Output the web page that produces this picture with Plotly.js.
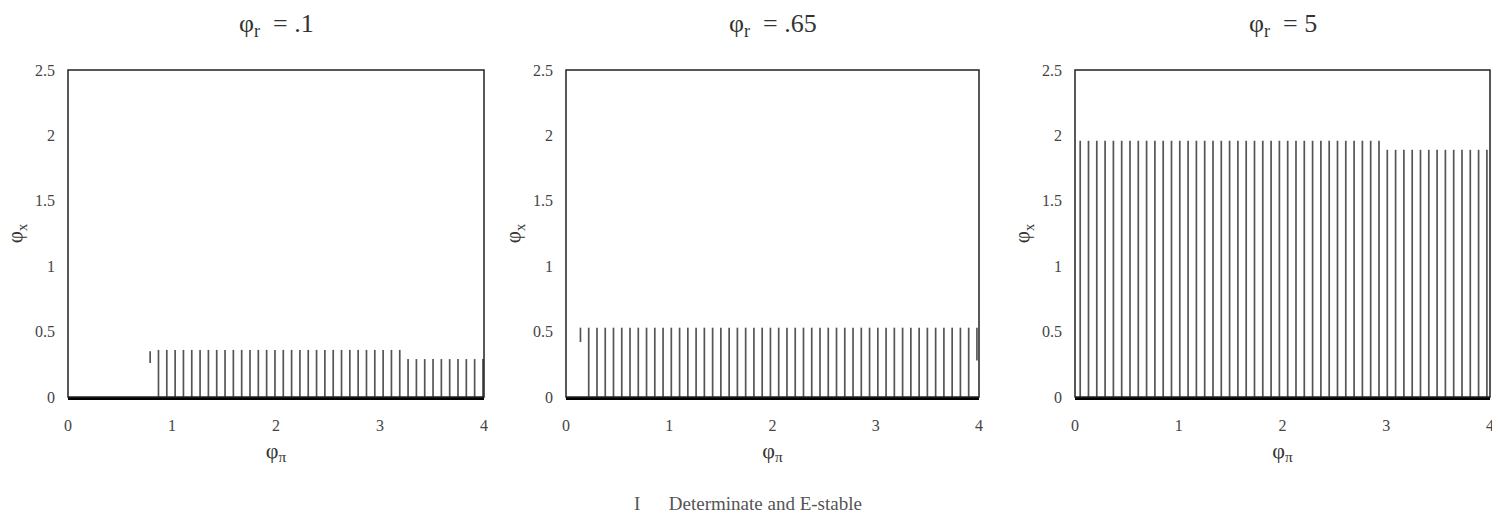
<!DOCTYPE html>
<html><head><meta charset="utf-8">
<script src="https://cdn.plot.ly/plotly-3.0.1.min.js"></script>
<style>html,body{margin:0;padding:0;background:#fff}#chart{width:1492px;height:517px}</style>
</head><body><div id="chart"></div>
<script>
// ---- data ----
const panelTitles = ['φ<sub>r</sub>  = .1', 'φ<sub>r</sub>  = .65', 'φ<sub>r</sub>  = 5'];
const xTickVals = [0, 1, 2, 3, 4];
const xTickText = ['0', '1', '2', '3', '4'];
const yTickVals = [0, 0.5, 1, 1.5, 2, 2.5];
const yTickText = ['0', '0.5', '1', '1.5', '2', '2.5'];
const legendLabel = 'Determinate and E-stable';

// panel 1 (phi_r = .1): phi_pi positions, upper and lower ends of the stable region
const p1X = [0.79, 0.87,0.95,1.03,1.11,1.19,1.27,1.35,1.43,1.51,1.59,1.67,1.75,1.83,1.91,1.99,2.07,2.15,2.23,2.31,2.39,2.47,2.55,2.63,2.71,2.79,2.87,2.95,3.03,3.11,3.19, 3.27,3.35,3.43,3.51,3.59,3.67,3.75,3.83,3.91,3.99];
const p1Top = [0.35, 0.36,0.36,0.36,0.36,0.36,0.36,0.36,0.36,0.36,0.36,0.36,0.36,0.36,0.36,0.36,0.36,0.36,0.36,0.36,0.36,0.36,0.36,0.36,0.36,0.36,0.36,0.36,0.36,0.36,0.36, 0.29,0.29,0.29,0.29,0.29,0.29,0.29,0.29,0.29,0.29];
const p1Bottom = [0.26, 0,0,0,0,0,0,0,0,0,0,0,0,0,0,0,0,0,0,0,0,0,0,0,0,0,0,0,0,0,0, 0,0,0,0,0,0,0,0,0,0];

// panel 2 (phi_r = .65)
const p2X = [0.14, 0.22,0.30,0.38,0.46,0.54,0.62,0.70,0.78,0.86,0.94,1.02,1.10,1.18,1.26,1.34,1.42,1.50,1.58,1.66,1.74,1.82,1.90,1.98,2.06,2.14,2.22,2.30,2.38,2.46,2.54,2.62,2.70,2.78,2.86,2.94,3.02,3.10,3.18,3.26,3.34,3.42,3.50,3.58,3.66,3.74,3.82,3.90, 3.98];
const p2Top = [0.53, 0.53,0.53,0.53,0.53,0.53,0.53,0.53,0.53,0.53,0.53,0.53,0.53,0.53,0.53,0.53,0.53,0.53,0.53,0.53,0.53,0.53,0.53,0.53,0.53,0.53,0.53,0.53,0.53,0.53,0.53,0.53,0.53,0.53,0.53,0.53,0.53,0.53,0.53,0.53,0.53,0.53,0.53,0.53,0.53,0.53,0.53,0.53, 0.53];
const p2Bottom = [0.42, 0,0,0,0,0,0,0,0,0,0,0,0,0,0,0,0,0,0,0,0,0,0,0,0,0,0,0,0,0,0,0,0,0,0,0,0,0,0,0,0,0,0,0,0,0,0,0, 0.28];

// panel 3 (phi_r = 5)
const p3X = [0.05,0.13,0.21,0.29,0.37,0.45,0.53,0.61,0.69,0.77,0.85,0.93,1.01,1.09,1.17,1.25,1.33,1.41,1.49,1.57,1.65,1.73,1.81,1.89,1.97,2.05,2.13,2.21,2.29,2.37,2.45,2.53,2.61,2.69,2.77,2.85,2.93, 3.01,3.09,3.17,3.25,3.33,3.41,3.49,3.57,3.65,3.73,3.81,3.89,3.97];
const p3Top = [1.96,1.96,1.96,1.96,1.96,1.96,1.96,1.96,1.96,1.96,1.96,1.96,1.96,1.96,1.96,1.96,1.96,1.96,1.96,1.96,1.96,1.96,1.96,1.96,1.96,1.96,1.96,1.96,1.96,1.96,1.96,1.96,1.96,1.96,1.96,1.96,1.96, 1.89,1.89,1.89,1.89,1.89,1.89,1.89,1.89,1.89,1.89,1.89,1.89,1.89];
const p3Bottom = [0,0,0,0,0,0,0,0,0,0,0,0,0,0,0,0,0,0,0,0,0,0,0,0,0,0,0,0,0,0,0,0,0,0,0,0,0, 0,0,0,0,0,0,0,0,0,0,0,0,0];

// ---- build traces ----
function segments(xs, tops, bottoms) {
  const x = [], y = [];
  xs.forEach((v, i) => { x.push(v, v, null); y.push(bottoms[i], tops[i], null); });
  return { x, y };
}
const panels = [[p1X, p1Top, p1Bottom], [p2X, p2Top, p2Bottom], [p3X, p3Top, p3Bottom]];
const FONT = 'Liberation Serif, Times New Roman, serif';
const traces = panels.map((p, i) => {
  const s = segments(p[0], p[1], p[2]);
  return {
    type: 'scatter', mode: 'lines', x: s.x, y: s.y,
    xaxis: i === 0 ? 'x' : 'x' + (i + 1), yaxis: i === 0 ? 'y' : 'y' + (i + 1),
    line: { color: '#555', width: 1.7 }, showlegend: false, hoverinfo: 'skip'
  };
});

const W = 1492;
const domains = [[68 / W, 484 / W], [566 / W, 979 / W], [1075 / W, 1490 / W]];
const layout = {
  width: 1492, height: 517,
  margin: { l: 0, r: 0, t: 70, b: 120 },
  paper_bgcolor: '#fff', plot_bgcolor: '#fff',
  showlegend: false,
  font: { family: FONT, color: '#333' },
  annotations: [], shapes: []
};
domains.forEach((d, i) => {
  const sx = i === 0 ? '' : String(i + 1);
  layout['xaxis' + sx] = {
    domain: d, range: [0, 4], anchor: 'y' + sx,
    tickmode: 'array', tickvals: xTickVals, ticktext: xTickText,
    ticks: '', showgrid: false, zeroline: false,
    showline: true, linecolor: '#000', linewidth: 2.5,
    ticklabeloverflow: 'allow',
    tickfont: { family: FONT, size: 16, color: '#444' }, ticklabelstandoff: 12,
    title: { text: 'φ<sub>π</sub>', font: { family: FONT, size: 22, color: '#333' }, standoff: 10 }
  };
  layout['yaxis' + sx] = {
    domain: [0, 1], range: [0, 2.5], anchor: 'x' + sx,
    tickmode: 'array', tickvals: yTickVals, ticktext: yTickText,
    ticks: '', showgrid: false, zeroline: false, showline: false,
    tickfont: { family: FONT, size: 16, color: '#444' }, ticklabelstandoff: 12,
    title: { text: 'φ<sub>x</sub>', font: { family: FONT, size: 21, color: '#333' }, standoff: 6 }
  };
  layout.shapes.push({
    type: 'rect', xref: 'x' + sx + ' domain', yref: 'y' + sx + ' domain',
    x0: 0, x1: 1, y0: 0, y1: 1, line: { color: '#222', width: 1.5 }, layer: 'above'
  });
  layout.annotations.push({
    text: panelTitles[i], xref: 'paper', yref: 'paper',
    x: (d[0] + d[1]) / 2, y: (397 - 25) / 327, xanchor: 'center', yanchor: 'middle',
    showarrow: false, font: { family: FONT, size: 26, color: '#333' }
  });
});
layout.annotations.push({
  text: 'I      ' + legendLabel, xref: 'paper', yref: 'paper',
  x: 632 / W, y: (397 - 503) / 327, xanchor: 'left', yanchor: 'middle',
  showarrow: false, font: { family: FONT, size: 19, color: '#555' }
});

Plotly.newPlot('chart', traces, layout, { displayModeBar: false, staticPlot: true });
</script>
</body></html>
